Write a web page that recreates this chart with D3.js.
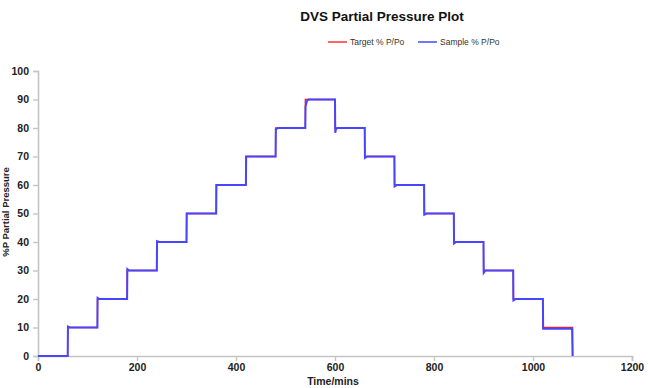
<!DOCTYPE html>
<html>
<head>
<meta charset="utf-8">
<script src="https://cdn.jsdelivr.net/npm/d3@7"></script>
<style>
  html, body { margin: 0; padding: 0; background: #fff; }
  svg { display: block; }
</style>
</head>
<body>
<script>
// ---- data ----
const title = "DVS Partial Pressure Plot";
const xLabel = "Time/mins";
const yLabel = "%P Partial Pressure";
const seriesNames = ["Target % P/Po", "Sample % P/Po"];
const xTicks = [0, 200, 400, 600, 800, 1000, 1200];
const yTicks = [0, 10, 20, 30, 40, 50, 60, 70, 80, 90, 100];

// target: step-after points (time, %P/Po)
const targetTime  = [0, 60, 120, 180, 240, 300, 360, 420, 480, 540, 600, 660, 720, 780, 840, 900, 960, 1020, 1080];
const targetValue = [0, 10, 20, 30, 40, 50, 60, 70, 80, 90, 80, 70, 60, 50, 40, 30, 20, 10, 0];

// sample: measured points (time, %P/Po)
const sampleTime  = [0, 60, 60.5, 64, 120, 120.5, 124, 180, 180.5, 184, 240, 240.5, 245, 300, 300.5, 360, 360.5, 420, 420.5, 480, 480.5, 485, 540, 540.5, 543, 546, 600, 600.5, 602, 605, 660, 660.5, 665, 720, 720.5, 725, 780, 780.5, 785, 840, 840.5, 845, 900, 900.5, 904, 960, 960.5, 965, 1020, 1020.5, 1079, 1080];
const sampleValue = [0, 0, 10.3, 10, 10, 20.4, 20, 20, 30.5, 30, 30, 40.3, 40, 40, 50, 50, 60, 60, 70, 70, 79.5, 80, 80, 87.5, 89.3, 90, 90, 78.3, 79.6, 80, 80, 69.5, 70, 70, 59.5, 60, 60, 49.6, 50, 50, 39.5, 40, 40, 29.2, 30, 30, 19.5, 20, 20, 9.6, 9.6, 0];

// ---- layout ----
const W = 648, H = 388;
const svg = d3.select("body").append("svg").attr("width", W).attr("height", H);

const x = d3.scaleLinear().domain([0, 1200]).range([38, 632]);
const y = d3.scaleLinear().domain([0, 100]).range([356, 71]);

const axisColor = "#c4c4c4";
const textColor = "#222";
const font = "Arial, 'Liberation Sans', sans-serif";

// axes
const yAxis = svg.append("g").attr("transform", `translate(${x(0)},0)`)
  .call(d3.axisLeft(y).tickValues(yTicks).tickSize(5).tickPadding(4).tickFormat(d3.format("d")));
const xAxis = svg.append("g").attr("transform", `translate(0,${y(0)})`)
  .call(d3.axisBottom(x).tickValues(xTicks).tickSize(5).tickPadding(3).tickFormat(d3.format("d")));
[yAxis, xAxis].forEach(g => {
  g.select(".domain").attr("stroke", axisColor).attr("stroke-width", 1.6);
  g.selectAll(".tick line").attr("stroke", axisColor).attr("stroke-width", 1.4);
  g.selectAll(".tick text").attr("fill", textColor).attr("font-family", font)
    .attr("font-weight", "bold").attr("font-size", "10.5px");
});

// lines
const targetPts = targetTime.map((t, i) => [t, targetValue[i]]);
const samplePts = sampleTime.map((t, i) => [t, sampleValue[i]]);

svg.append("path").datum(targetPts)
  .attr("fill", "none").attr("stroke", "#ff1a1a").attr("stroke-width", 1.3)
  .attr("d", d3.line().x(d => x(d[0])).y(d => y(d[1])).curve(d3.curveStepAfter));

svg.append("path").datum(samplePts)
  .attr("fill", "none").attr("stroke", "#4646ff").attr("stroke-width", 2)
  .attr("d", d3.line().x(d => x(d[0])).y(d => y(d[1])));

// title
svg.append("text").attr("x", 382).attr("y", 21).attr("text-anchor", "middle")
  .attr("font-family", font).attr("font-weight", "bold").attr("font-size", "13.5px")
  .attr("fill", "#111").text(title);

// legend
const legendItems = [
  { name: seriesNames[0], color: "#ff3333", x: 328 },
  { name: seriesNames[1], color: "#4646ff", x: 418 }
];
const lg = svg.append("g");
legendItems.forEach(it => {
  lg.append("line").attr("x1", it.x).attr("x2", it.x + 19).attr("y1", 42).attr("y2", 42)
    .attr("stroke", it.color).attr("stroke-width", 1.5);
  lg.append("text").attr("x", it.x + 22).attr("y", 45)
    .attr("font-family", font).attr("font-size", "8.5px")
    .attr("fill", "#333").text(it.name);
});

// axis titles
svg.append("text").attr("x", 333).attr("y", 385).attr("text-anchor", "middle")
  .attr("font-family", font).attr("font-weight", "bold").attr("font-size", "10.5px")
  .attr("fill", textColor).text(xLabel);

svg.append("text").attr("transform", `translate(9,212) rotate(-90)`).attr("text-anchor", "middle")
  .attr("font-family", font).attr("font-weight", "bold").attr("font-size", "9.5px")
  .attr("fill", textColor).text(yLabel);
</script>
</body>
</html>
